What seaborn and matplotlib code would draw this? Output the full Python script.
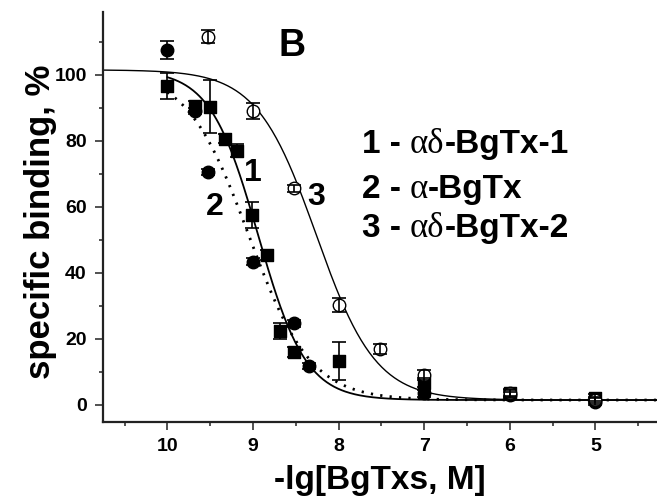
import numpy as np
import pandas as pd
import matplotlib
matplotlib.use("Agg")
import matplotlib.pyplot as plt
import seaborn as sns
from matplotlib.offsetbox import TextArea, HPacker, AnnotationBbox
from matplotlib.ticker import MultipleLocator

# ---------------- data ----------------
# series 1: alpha-delta-BgTx-1 (filled squares)
s1_x = [10.0, 9.68, 9.5, 9.33, 9.19, 9.01, 8.83, 8.68, 8.52, 8.0, 7.0, 6.0, 5.0]
s1_y = [96.6, 90.5, 90.3, 80.7, 77.0, 57.5, 45.4, 22.4, 16.1, 13.4, 6.8, 3.7, 2.2]
s1_err = [4.0, 1.5, 8.0, 1.5, 2.0, 4.0, 1.5, 2.5, 1.5, 5.7, 1.5, 1.0, 1.0]

# series 2: alpha-BgTx (filled circles)
s2_x = [10.0, 9.68, 9.52, 9.0, 8.52, 8.34, 7.0, 6.0, 5.0]
s2_y = [107.5, 89.0, 70.6, 43.4, 24.7, 11.8, 3.5, 3.0, 1.0]
s2_err = [2.7, 1.0, 1.0, 1.0, 1.0, 1.0, 1.0, 1.0, 1.0]

# series 3: alpha-delta-BgTx-2 (open circles)
s3_x = [9.52, 9.0, 8.52, 8.0, 7.52, 7.0, 6.0, 5.0]
s3_y = [111.5, 89.1, 65.6, 30.3, 16.9, 9.1, 3.5, 1.5]
s3_err = [2.0, 2.5, 1.0, 2.0, 1.5, 1.5, 1.0, 1.0]

# fitted sigmoid parameters (top, bottom, midpoint, Hill slope, start of curve)
fit_top = [101.5, 101.5, 101.5]
fit_bottom = [1.5, 1.5, 1.5]
fit_x50 = [8.94, 9.05, 8.26]
fit_hill = [1.55, 1.2, 1.25]
fit_start = [10.0, 10.0, 10.755]

x_ticks = [10, 9, 8, 7, 6, 5]
y_ticks = [0, 20, 40, 60, 80, 100]
legend_lines = [("1 - ", "\u03b1\u03b4", "-BgTx-1"),
                ("2 - ", "\u03b1", "-BgTx"),
                ("3 - ", "\u03b1\u03b4", "-BgTx-2")]
curve_labels = ["1", "2", "3"]

# ---------------- figure ----------------
sns.set_style("ticks")
plt.rcParams["font.family"] = ["Liberation Sans", "DejaVu Sans"]
for key in ["text.color", "axes.labelcolor", "xtick.color", "ytick.color",
            "axes.edgecolor"]:
    plt.rcParams[key] = "black"

fig = plt.figure(figsize=(6.57, 5.01), dpi=100)
ax = fig.add_axes([0.1563, 0.1583, 0.8437, 0.8183])

XMIN, XMAX = 10.755, 4.28

def sigmoid(x, top, bottom, x50, h):
    return bottom + (top - bottom) / (1.0 + 10 ** ((x50 - x) * h))

styles = [dict(lw=1.3, ls="-"),
          dict(lw=2.0, ls=(0, (0.8, 2.6))),
          dict(lw=1.0, ls="-")]
for i in range(3):
    xs = np.linspace(fit_start[i], XMAX, 400)
    ys = sigmoid(xs, fit_top[i], fit_bottom[i], fit_x50[i], fit_hill[i])
    df = pd.DataFrame({"x": xs, "y": ys})
    sns.lineplot(data=df, x="x", y="y", ax=ax, sort=False, estimator=None,
                 linewidth=styles[i]["lw"], linestyle=styles[i]["ls"],
                 color="black", zorder=2)

series = [
    (s1_x, s1_y, s1_err, "s", "black", 8.0),
    (s2_x, s2_y, s2_err, "o", "black", 9.0),
    (s3_x, s3_y, s3_err, "o", "white", 9.0),
]
for xs, ys, es, mk, fc, ms in series:
    ax.errorbar(xs, ys, yerr=es, fmt="none", ecolor="black", elinewidth=1.2,
                capsize=5, capthick=1.2, zorder=4)
    df = pd.DataFrame({"x": xs, "y": ys})
    sns.scatterplot(data=df, x="x", y="y", ax=ax, marker=mk, s=ms ** 2,
                    color=fc, edgecolor="black", linewidth=1.0, zorder=3)

ax.set_xlim(XMIN, XMAX)
ax.set_ylim(-5.06, 119.1)
ax.set_xticks(x_ticks)
ax.set_yticks(y_ticks)
ax.xaxis.set_minor_locator(MultipleLocator(0.5))
ax.yaxis.set_minor_locator(MultipleLocator(10))
ax.tick_params(which="major", direction="out", length=5.5, width=1.1,
               labelsize=14, pad=6, color="#222222", labelcolor="black")
ax.tick_params(which="minor", direction="out", length=2.8, width=1.1,
               color="#222222")
for lab in ax.get_xticklabels() + ax.get_yticklabels():
    lab.set_fontweight("bold")

for side in ["top", "right"]:
    ax.spines[side].set_visible(False)
for side in ["left", "bottom"]:
    ax.spines[side].set_linewidth(1.6)
    ax.spines[side].set_color("#222222")

ax.set_xlabel("")
ax.set_ylabel("")
fig.text(380 / 657, 1 - 480 / 501, "-lg[BgTxs, M]", fontsize=24,
         fontweight="bold", ha="center", va="center")
fig.text(41 / 657, 1 - 222 / 501, "specific binding, %", fontsize=25,
         fontweight="bold", ha="center", va="center", rotation=90)

# panel letter and curve numbers
ax.text(8.547, 108.8, "B", fontsize=27, fontweight="bold", ha="center", va="center")
label_pos = [(8.995, 70.4), (9.443, 60.0), (8.263, 63.1)]
for lab, (lx, ly) in zip(curve_labels, label_pos):
    ax.text(lx, ly, lab, fontsize=23, fontweight="bold", ha="center", va="center")

# legend text with serif Greek letters
legend_y = [79.0, 65.4, 53.3]
for (a, g, b), ly in zip(legend_lines, legend_y):
    sans = dict(fontsize=24, fontweight="bold", family="Liberation Sans",
                color="black")
    serif = dict(fontsize=25, fontweight="normal", family="Liberation Serif",
                 color="black")
    box = HPacker(children=[TextArea(a, textprops=sans),
                            TextArea(g, textprops=serif),
                            TextArea(b, textprops=sans)],
                  align="baseline", pad=0, sep=0)
    ab = AnnotationBbox(box, (7.729, ly), xycoords="data", box_alignment=(0, 0.5),
                        frameon=False, pad=0)
    ax.add_artist(ab)

fig.savefig("out.png", dpi=100)
